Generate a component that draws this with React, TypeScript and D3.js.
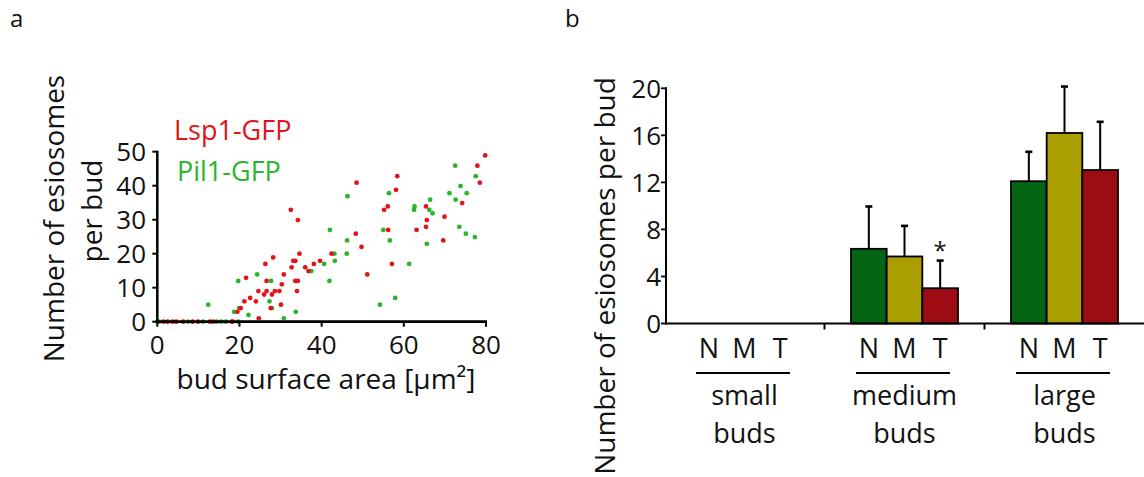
import React from "react";
import * as d3 from "d3";

// ---------- Panel a: scatter data ----------
const lspX = [1.5, 2.5, 3.7, 4.6, 6.3, 8.6, 9.9, 12.8, 13.6, 18.1,
  18.3, 19.5, 20.3, 21.2, 21.6, 22.6, 24.0, 24.6, 24.7, 26.0, 26.3, 26.6, 26.6, 27.6, 27.9, 28.2, 28.6,
  29.7, 30.1, 30.3, 30.8, 32.5, 32.7, 33.1, 33.6, 33.6, 34.0, 34.2, 34.2, 34.6, 36.0, 36.8, 38.1, 39.6,
  42.4, 48.3, 48.5, 49.7, 51.1, 55.2, 56.1, 56.2, 57.1, 58.1, 58.4,
  63.1, 65.4, 65.4, 65.6, 69.6, 69.9, 74.2, 77.9, 78.5, 79.8];
const lspY = [0, 0, 0, 0, 0, 0, 0, 0, 0, 0,
  0, 2.9, 4, 6, 12.9, 7, 6, 9, 1, 8, 17, 9, 12, 4, 8, 18.9, 9,
  9, 5, 11, 13.9, 32.9, 16, 17.9, 17.9, 12, 9, 12, 29.9, 20, 16, 14.9, 17, 17.9,
  20, 25.9, 40.9, 22, 13.9, 32.9, 33.9, 27, 17, 38.8, 42.8,
  27, 33.9, 27.9, 29.9, 23.9, 30.9, 34.9, 45.9, 40.9, 48.9];

const pilX = [0, 0.4, 7.5, 11.1, 14.5, 15.6, 16.7, 19.7,
  12.4, 18.7, 19.7, 19.9, 22.2, 24.3, 27.3, 27.7, 27.9, 30.8, 33.7, 37.5,
  40.6, 41.9, 42.0, 43.1, 43.2, 46.1, 46.2, 46.3, 54.2, 55.0, 56.4, 56.6, 57.9,
  61.3, 62.5, 62.6, 65.6, 66.2, 66.4, 67.0, 71.1, 72.5, 72.6, 73.5, 73.8, 75.1, 75.3, 77.3, 77.5];
const pilY = [0, 0, 0, 0, 0, 0, 0, 0,
  5, 2.9, 12, 4, 2, 13.9, 6, 12, 4, 1, 2.9, 14.9,
  17, 12, 27, 20, 17.9, 20, 23.9, 36.9, 5, 27, 37.8, 23.9, 7,
  17, 32.9, 33.9, 22.9, 32.9, 35.9, 31.9, 37.8, 45.9, 35.9, 27.9, 39.9, 25.9, 37.8, 24.9, 42.8];

const scatterXTicks = [0, 20, 40, 60, 80];
const scatterYTicks = [0, 10, 20, 30, 40, 50];

// ---------- Panel b: bar data ----------
const groups = ["small", "medium", "large"];
const groupLine1 = ["small", "medium", "large"];
const groupLine2 = ["buds", "buds", "buds"];
const strains = ["N", "M", "T"];
const meanN = [0, 6.35, 12.1];
const meanM = [0, 5.7, 16.2];
const meanT = [0, 3.0, 13.05];
const errN = [0, 3.6, 2.5];
const errM = [0, 2.6, 3.95];
const errT = [0, 2.35, 4.1];
const barYTicks = [0, 4, 8, 12, 16, 20];
const starGroup = "medium";
const starStrain = "T";

const FONT = "'Open Sans', 'Noto Sans', sans-serif";
const RED = "#e3131b";
const GREEN = "#2cb42c";
const barColors: Record<string, string> = { N: "#036414", M: "#aa9e00", T: "#9d0c13" };

export default function App() {
  // scatter scales
  const sx = d3.scaleLinear().domain([0, 80]).range([157.3, 486]);
  const sy = d3.scaleLinear().domain([0, 50]).range([321.7, 151.7]);

  // bar scales
  const gx = d3.scaleBand<string>().domain(groups).range([664.5, 1144.5]);
  const ix = d3.scaleBand<string>().domain(strains).range([26.5, 133.5]);
  const by = d3.scaleLinear().domain([0, 20]).range([323.5, 88.3]);

  const means: Record<string, number[]> = { N: meanN, M: meanM, T: meanT };
  const errs: Record<string, number[]> = { N: errN, M: errM, T: errT };

  const lsp = lspX.map((x, i) => ({ x, y: lspY[i] }));
  const pil = pilX.map((x, i) => ({ x, y: pilY[i] }));

  const axisX0 = 666;

  return (
    <svg width={1144} height={477} style={{ position: "absolute", left: 0, top: 0, background: "#fff" }}
      fontFamily={FONT}>
      <rect x={0} y={0} width={1144} height={477} fill="#fff" />
      {/* panel labels */}
      <text x={10} y={27} fontSize={24} fill="#111">a</text>
      <text x={565} y={27} fontSize={24} fill="#111">b</text>

      {/* ---------- Scatter ---------- */}
      <g>
        {pil.map((d, i) => (
          <circle key={"p" + i} cx={sx(d.x)} cy={sy(d.y)} r={2.4} fill={GREEN} />
        ))}
        {lsp.map((d, i) => (
          <circle key={"l" + i} cx={sx(d.x)} cy={sy(d.y)} r={2.4} fill={RED} />
        ))}
        {/* axes */}
        <line x1={sx(0)} x2={sx(0)} y1={sy(50) - 1} y2={sy(0) + 1.2} stroke="#000" strokeWidth={2.5} />
        <line x1={sx(0) - 1.2} x2={sx(80) + 1} y1={sy(0)} y2={sy(0)} stroke="#000" strokeWidth={2.8} />
        {scatterYTicks.map((t) => (
          <g key={"sy" + t}>
            <line x1={sx(0) - 5} x2={sx(0)} y1={sy(t)} y2={sy(t)} stroke="#000" strokeWidth={2} />
            <text x={146} y={sy(t) + 9} fontSize={26} textAnchor="end" fill="#111">{t}</text>
          </g>
        ))}
        {scatterXTicks.map((t) => (
          <g key={"sx" + t}>
            <line x1={sx(t)} x2={sx(t)} y1={sy(0)} y2={sy(0) + 5} stroke="#000" strokeWidth={2} />
            <text x={sx(t)} y={354} fontSize={26} textAnchor="middle" fill="#111">{t}</text>
          </g>
        ))}
        <text x={326} y={389} fontSize={28} textAnchor="middle" fill="#111">bud surface area [μm²]</text>
        <text transform="translate(64,218.5) rotate(-90)" fontSize={28} textAnchor="middle" fill="#111">Number of esiosomes</text>
        <text transform="translate(102,211) rotate(-90)" fontSize={28} textAnchor="middle" fill="#111">per bud</text>
        <text x={174} y={140} fontSize={27} fill={RED}>Lsp1-GFP</text>
        <text x={177} y={181} fontSize={27} fill={GREEN}>Pil1-GFP</text>
      </g>

      {/* ---------- Bars ---------- */}
      <g>
        {groups.map((g, gi) =>
          strains.map((s) => {
            const x0 = (gx(g) as number) + (ix(s) as number);
            const w = ix.bandwidth();
            const v = means[s][gi];
            const e = errs[s][gi];
            const cx = x0 + w / 2;
            return (
              <g key={g + s}>
                {e > 0 && (
                  <g>
                    <line x1={cx} x2={cx} y1={by(v)} y2={by(v + e)} stroke="#000" strokeWidth={2} />
                    <line x1={cx - 3.5} x2={cx + 3.5} y1={by(v + e)} y2={by(v + e)} stroke="#000" strokeWidth={2.6} />
                  </g>
                )}
                {v > 0 && (
                  <rect x={x0} y={by(v)} width={w} height={by(0) - by(v)} fill={barColors[s]} stroke="#000" strokeWidth={1.8} />
                )}
                {g === starGroup && s === starStrain && (
                  <text x={cx} y={by(v + e) - 2} fontSize={24} textAnchor="middle" fill="#111">*</text>
                )}
                <text x={cx} y={358.3} fontSize={27} textAnchor="middle" fill="#111">{s}</text>
              </g>
            );
          })
        )}
        {/* axes */}
        <line x1={axisX0} x2={axisX0} y1={by(20) - 1} y2={by(0) + 1} stroke="#000" strokeWidth={2} />
        <line x1={axisX0 - 1} x2={1144} y1={by(0)} y2={by(0)} stroke="#000" strokeWidth={2.2} />
        {barYTicks.map((t) => (
          <g key={"by" + t}>
            <line x1={axisX0 - 5} x2={axisX0} y1={by(t)} y2={by(t)} stroke="#000" strokeWidth={1.8} />
            <text x={661} y={by(t) + 9.5} fontSize={26} textAnchor="end" fill="#111">{t}</text>
          </g>
        ))}
        {groups.slice(1).map((g) => (
          <line key={"gt" + g} x1={gx(g) as number} x2={gx(g) as number} y1={by(0)} y2={by(0) + 6} stroke="#000" strokeWidth={2} />
        ))}
        {groups.map((g, gi) => {
          const gs = gx(g) as number;
          const c = gs + gx.bandwidth() / 2;
          return (
            <g key={"gl" + g}>
              <line x1={gs + 31.5} x2={gs + 125.5} y1={373} y2={373} stroke="#000" strokeWidth={2} />
              <text x={c} y={405} fontSize={27} textAnchor="middle" fill="#111">{groupLine1[gi]}</text>
              <text x={c} y={443.3} fontSize={27} textAnchor="middle" fill="#111">{groupLine2[gi]}</text>
            </g>
          );
        })}
        <text transform="translate(615,276) rotate(-90)" fontSize={28} textAnchor="middle" fill="#111">Number of esiosomes per bud</text>
      </g>
    </svg>
  );
}
